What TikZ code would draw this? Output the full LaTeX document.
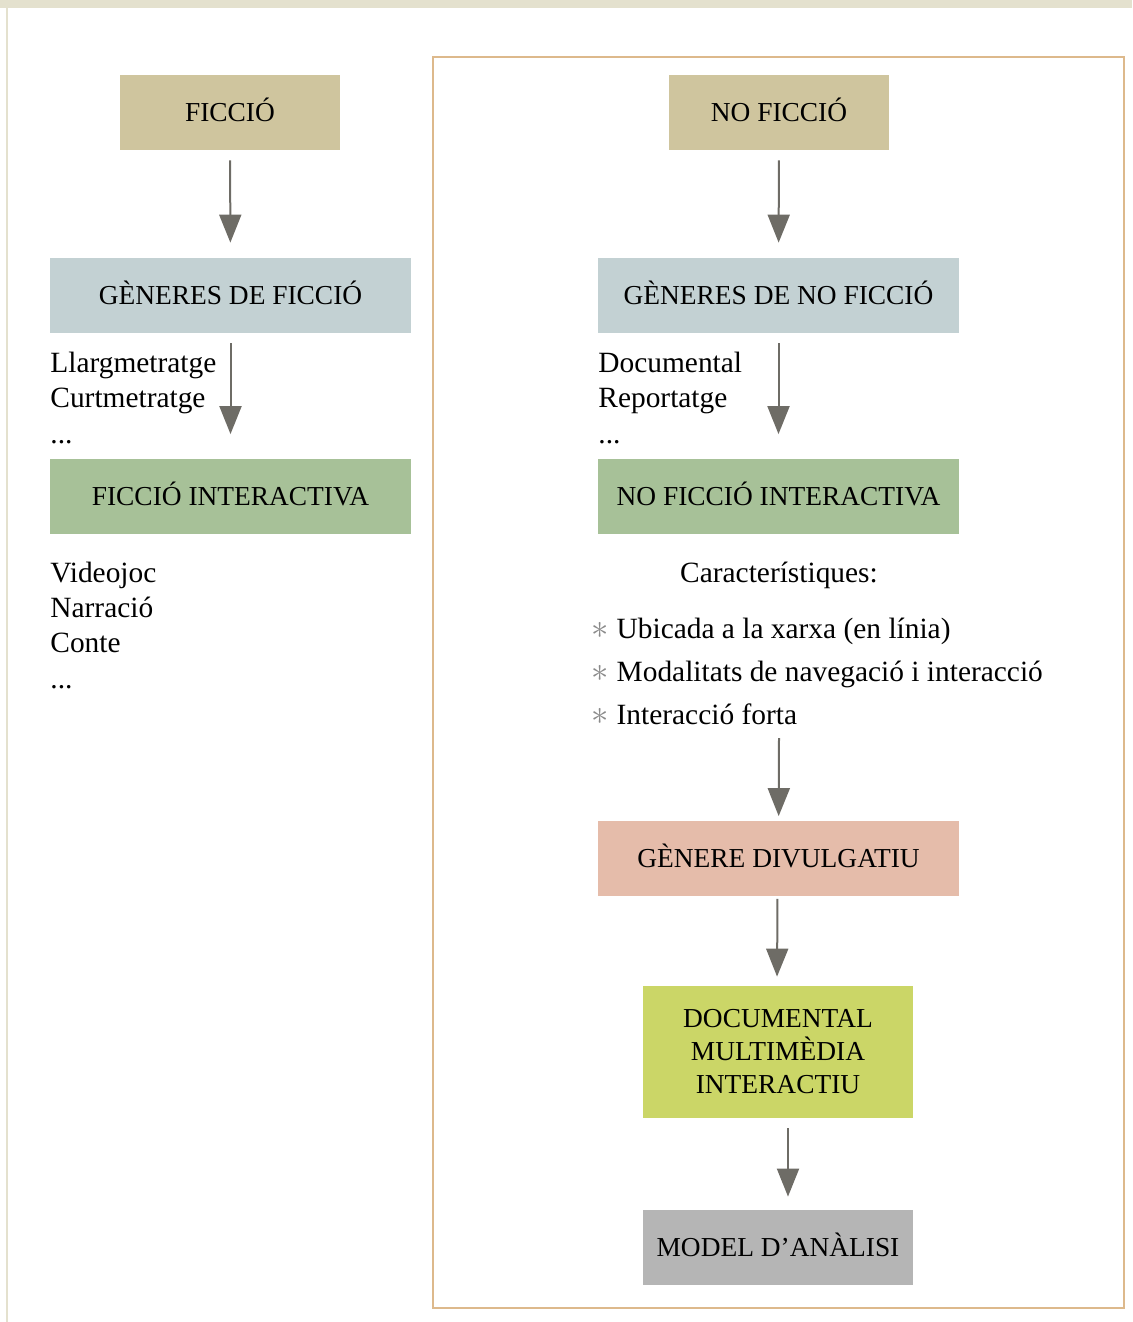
\documentclass[tikz,border=0pt]{standalone}
\usepackage{fontspec}
\setmainfont{Liberation Serif}
\usetikzlibrary{arrows.meta}
\definecolor{bandcol}{HTML}{E4E1CE}
\definecolor{framecol}{HTML}{DDB98C}
\definecolor{arrowcol}{HTML}{6E6C66}
\definecolor{ficcol}{HTML}{CFC59E}
\definecolor{gencol}{HTML}{C3D1D3}
\definecolor{intcol}{HTML}{A7C198}
\definecolor{divcol}{HTML}{E5BCAA}
\definecolor{doccol}{HTML}{CBD667}
\definecolor{modcol}{HTML}{B5B5B5}
\definecolor{astcol}{HTML}{8A8A8A}
\newcommand{\carast}{\textcolor{astcol}{\fontsize{19}{19}\selectfont$\ast$}\hspace{4pt}}

\begin{document}
\begin{tikzpicture}[x=0.5pt,y=-0.5pt,
  every node/.style={rectangle,inner sep=0pt},
  box/.style={align=center,minimum height=37.5pt,font=\fontsize{13.7}{16.5}\selectfont},
  onebox/.style={box,text height=9pt,text depth=0pt},
  txt/.style={anchor=base west,font=\fontsize{14.7}{17.5}\selectfont},
  arr/.style={draw=arrowcol,line width=1pt,-{Triangle[length=14pt,width=11pt]}}]
  \useasboundingbox (0,0) rectangle (1132,1322);

  \fill[bandcol] (0,0) rectangle (1132,8);
  \draw[bandcol,line width=1.2pt] (7,8) -- (7,1322);
  \draw[framecol,line width=1pt] (433,57) rectangle (1124,1308);

  % fiction column
  \node (f1) [onebox,fill=ficcol,minimum width=110pt] at (230,112.5) {FICCIÓ};
  \node (f2) [onebox,fill=gencol,minimum width=180.5pt] at (230.5,295.5) {GÈNERES DE FICCIÓ};
  \node (f3) [onebox,fill=intcol,minimum width=180.5pt] at (230.5,496) {FICCIÓ INTERACTIVA};

  \node (ft1) [txt] at (50,372) {Llargmetratge};
  \node (ft2) [txt] at (50,407) {Curtmetratge};
  \node (ft3) [txt] at (50,443) {...};
  \node (ft4) [txt] at (50,582) {Videojoc};
  \node (ft5) [txt] at (50,617) {Narració};
  \node (ft6) [txt] at (50,652) {Conte};
  \node (ft7) [txt] at (50,688) {...};

  % non fiction column
  \node (n1) [onebox,fill=ficcol,minimum width=110pt] at (779,112.5) {NO FICCIÓ};
  \node (n2) [onebox,fill=gencol,minimum width=180.5pt] at (778.5,295.5) {GÈNERES DE NO FICCIÓ};
  \node (n3) [onebox,fill=intcol,minimum width=180.5pt] at (778.5,496) {NO FICCIÓ INTERACTIVA};

  \node (nt1) [txt] at (598,372) {Documental};
  \node (nt2) [txt] at (598,407) {Reportatge};
  \node (nt3) [txt] at (598,443) {...};

  \node (c0) [txt,anchor=base] at (779,582) {Característiques:};
  \node (c1) [txt] at (591,638) {\carast Ubicada a la xarxa (en línia)};
  \node (c2) [txt] at (591,681) {\carast Modalitats de navegació i interacció};
  \node (c3) [txt] at (591,724) {\carast Interacció forta};
  \coordinate (c4) at (779,738);

  \node (n4) [onebox,fill=divcol,minimum width=180.5pt] at (778.5,858) {GÈNERE DIVULGATIU};
  \node (n5) [box,fill=doccol,minimum width=135pt,minimum height=66pt] at (778,1052) {DOCUMENTAL\\MULTIMÈDIA\\INTERACTIU};
  \node (n6) [onebox,fill=modcol,minimum width=135pt] at (778,1247.5) {MODEL D’ANÀLISI};

  \draw[arr,shorten <=5pt,shorten >=7.5pt] (f1) -- (f2);
  \draw[arr,shorten <=5pt,shorten >=12pt] (f2) -- (f3);
  \draw[arr,shorten <=5pt,shorten >=7.5pt] (n1) -- (n2);
  \draw[arr,shorten <=5pt,shorten >=12pt] (n2) -- (n3);
  \draw[arr,shorten >=2pt] (c4) -- (n4);
  \draw[arr,shorten <=1.5pt,shorten >=4.5pt] ([xshift=-0.5pt]n4.south) -- ([xshift=-0.5pt]n5.north);
  \draw[arr,shorten <=5pt,shorten >=6.5pt] ([xshift=5pt]n5.south) -- ([xshift=5pt]n6.north);
\end{tikzpicture}
\end{document}
